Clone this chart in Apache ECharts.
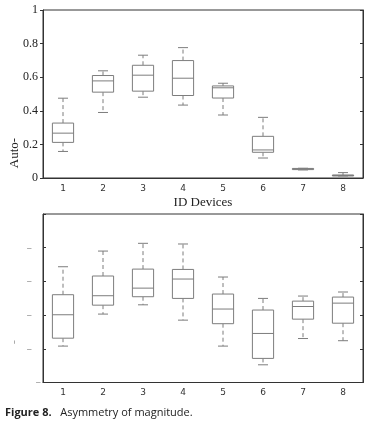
<!DOCTYPE html>
<html>
<head>
<meta charset="utf-8">
<script src="https://cdn.jsdelivr.net/npm/echarts@6/dist/echarts.min.js"></script>
<style>
  html, body { margin: 0; padding: 0; background: #fff; }
  #chart { width: 370px; height: 430px; }
</style>
</head>
<body>
<div id="chart"></div>
<script>
var categories = ['1', '2', '3', '4', '5', '6', '7', '8'];

// top panel (Auto-)
var topLow    = [0.158, 0.390, 0.481, 0.434, 0.375, 0.119, 0.048, 0.012];
var topQ1     = [0.212, 0.511, 0.517, 0.491, 0.476, 0.153, 0.050, 0.013];
var topMedian = [0.267, 0.578, 0.612, 0.594, 0.537, 0.167, 0.054, 0.015];
var topQ3     = [0.327, 0.610, 0.671, 0.699, 0.548, 0.248, 0.057, 0.018];
var topHigh   = [0.475, 0.638, 0.731, 0.776, 0.564, 0.361, 0.058, 0.032];

// bottom panel
var botLow    = [0.216, 0.406, 0.461, 0.370, 0.216, 0.105, 0.261, 0.248];
var botQ1     = [0.263, 0.459, 0.509, 0.499, 0.349, 0.143, 0.376, 0.352];
var botMedian = [0.402, 0.515, 0.560, 0.614, 0.436, 0.291, 0.451, 0.471];
var botQ3     = [0.521, 0.632, 0.673, 0.671, 0.525, 0.430, 0.483, 0.507];
var botHigh   = [0.687, 0.780, 0.826, 0.822, 0.626, 0.499, 0.513, 0.537];

var yTicks = [0, 0.2, 0.4, 0.6, 0.8, 1];

function buildRows(lo, q1, med, q3, hi) {
    var rows = [];
    for (var i = 0; i < categories.length; i++) {
        rows.push([i, lo[i], q1[i], med[i], q3[i], hi[i]]);
    }
    return rows;
}

var boxColor = '#7d7d7d';

// box with dashed whiskers, drawn from the axis scales
function renderBox(params, api) {
    var x = api.value(0);
    var band = api.size([1, 0])[0];
    var half = band * 0.265;
    var capHalf = band * 0.125;
    var pLo = api.coord([x, api.value(1)]);
    var pQ1 = api.coord([x, api.value(2)]);
    var pMed = api.coord([x, api.value(3)]);
    var pQ3 = api.coord([x, api.value(4)]);
    var pHi = api.coord([x, api.value(5)]);
    var cx = pLo[0];
    var solid = { stroke: boxColor, lineWidth: 1, fill: null };
    var dashed = { stroke: boxColor, lineWidth: 1, lineDash: [4, 3] };
    return {
        type: 'group',
        children: [
            { type: 'line', shape: { x1: cx, y1: pQ3[1], x2: cx, y2: pHi[1] }, style: dashed },
            { type: 'line', shape: { x1: cx, y1: pQ1[1], x2: cx, y2: pLo[1] }, style: dashed },
            { type: 'line', shape: { x1: cx - capHalf, y1: pHi[1], x2: cx + capHalf, y2: pHi[1] }, style: solid },
            { type: 'line', shape: { x1: cx - capHalf, y1: pLo[1], x2: cx + capHalf, y2: pLo[1] }, style: solid },
            { type: 'rect', shape: { x: cx - half, y: pQ3[1], width: half * 2, height: Math.max(pQ1[1] - pQ3[1], 1) }, style: { stroke: boxColor, lineWidth: 1, fill: '#fff' } },
            { type: 'line', shape: { x1: cx - half, y1: pMed[1], x2: cx + half, y2: pMed[1] }, style: solid }
        ]
    };
}

var chart = echarts.init(document.getElementById('chart'));

function xAxisFor(gridIndex, withName) {
    return {
        type: 'category',
        gridIndex: gridIndex,
        data: categories,
        boundaryGap: true,
        axisLine: { show: true, lineStyle: { color: '#333', width: 1 } },
        axisTick: { show: false },
        axisLabel: { margin: 6, fontSize: 9, color: '#333', fontFamily: 'DejaVu Sans' },
        splitLine: { show: false },
        name: withName ? 'ID Devices' : '',
        nameLocation: 'middle',
        nameGap: 18,
        nameTextStyle: { fontFamily: 'Liberation Serif', fontSize: 13, color: '#222' }
    };
}

function yAxisFor(gridIndex, side, showLabels, tickInside, labelFn) {
    return {
        type: 'value',
        gridIndex: gridIndex,
        position: side,
        min: 0,
        max: 1,
        interval: 0.2,
        axisLine: { show: true, onZero: false, lineStyle: { color: '#333', width: 1 } },
        axisTick: { show: true, inside: tickInside, length: 3, lineStyle: { color: '#333' } },
        axisLabel: showLabels ? labelFn : { show: false },
        splitLine: { show: false }
    };
}

var option = {
    backgroundColor: '#fff',
    animation: false,
    grid: [
        { left: 43, top: 10, width: 320, height: 168, show: true, borderColor: '#333', borderWidth: 1 },
        { left: 43, top: 214, width: 320, height: 168.5, show: true, borderColor: '#333', borderWidth: 1 }
    ],
    xAxis: [xAxisFor(0, true), xAxisFor(1, false)],
    yAxis: [
        yAxisFor(0, 'left', true, false, {
            margin: 5, fontSize: 12, color: '#222', fontFamily: 'Liberation Serif',
            formatter: function (v) { return yTicks.indexOf(v) >= 0 ? String(v) : ''; }
        }),
        yAxisFor(0, 'right', false, true),
        yAxisFor(1, 'left', true, true, {
            margin: 2, fontSize: 11, color: '#999', fontFamily: 'DejaVu Sans',
            formatter: function (v) {
                if (v >= 1) return '';
                return v === 0 ? '{z|\u2013}' : '{d|\u2013}';
            },
            rich: {
                z: { color: '#999', fontSize: 11 },
                d: { color: '#999', fontSize: 11, padding: [0, 9, 0, 0] }
            }
        }),
        yAxisFor(1, 'right', false, true)
    ],
    series: [
        {
            type: 'custom',
            xAxisIndex: 0,
            yAxisIndex: 0,
            renderItem: renderBox,
            encode: { x: 0, y: [1, 2, 3, 4, 5] },
            data: buildRows(topLow, topQ1, topMedian, topQ3, topHigh),
            z: 5
        },
        {
            type: 'custom',
            xAxisIndex: 1,
            yAxisIndex: 2,
            renderItem: renderBox,
            encode: { x: 0, y: [1, 2, 3, 4, 5] },
            data: buildRows(botLow, botQ1, botMedian, botQ3, botHigh),
            z: 5
        }
    ],
    graphic: [
        {
            type: 'text', x: 15, y: 153, rotation: Math.PI / 2,
            style: { text: 'Auto-', font: '13px "Liberation Serif"', fill: '#222', align: 'center', verticalAlign: 'middle' }
        },
        {
            type: 'text', x: 15, y: 342, rotation: Math.PI / 2,
            style: { text: '-', font: '12px "DejaVu Sans"', fill: '#aaa', align: 'center', verticalAlign: 'middle' }
        },
        {
            type: 'text', x: 5, y: 413,
            style: {
                text: '{b|Figure 8.}   Asymmetry of magnitude.',
                font: '11px "Open Sans"', fill: '#222', verticalAlign: 'middle',
                rich: { b: { fontWeight: 'bold', fontFamily: 'Open Sans', fontSize: 11, fill: '#222' } }
            }
        }
    ]
};

chart.setOption(option);
</script>
</body>
</html>
